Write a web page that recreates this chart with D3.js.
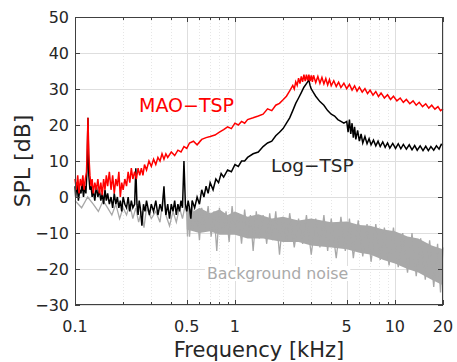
<!DOCTYPE html>
<html>
<head>
<meta charset="utf-8">
<script src="https://cdn.jsdelivr.net/npm/d3@7"></script>
<style>
  body { margin: 0; background: #fff; }
  svg text { font-family: "DejaVu Sans", sans-serif; }
</style>
</head>
<body>
<svg id="chart"></svg>
<script>
// axis ticks
const xTicks = [0.1, 0.5, 1, 5, 10, 20];
const xMinor = [0.2, 0.3, 0.4, 0.6, 0.7, 0.8, 0.9, 2, 3, 4, 6, 7, 8, 9];
const yTicks = [-30, -20, -10, 0, 10, 20, 30, 40, 50];

// MAO-TSP (kHz, dB)
const maoTsp = [
  [0.100, 5], [0.102, 2], [0.104, 6], [0.106, 1], [0.108, 5], [0.110, 3], [0.112, 6], [0.114, 2],
  [0.116, 5], [0.118, 7], [0.119, 12], [0.1205, 22], [0.122, 12], [0.124, 6], [0.126, 3], [0.128, 5],
  [0.130, 1], [0.133, 4], [0.136, 2], [0.139, 5], [0.142, 1], [0.145, 4], [0.148, 0.5], [0.151, 5],
  [0.154, 2], [0.157, 6], [0.160, 3], [0.164, 7], [0.168, 2], [0.172, 6], [0.176, 1], [0.180, 5],
  [0.184, 3], [0.188, 7], [0.192, 0], [0.196, 4], [0.200, 2], [0.205, 5], [0.210, 3], [0.215, 7],
  [0.220, 4], [0.225, 8], [0.230, 5], [0.236, 7], [0.242, 5], [0.248, 8], [0.254, 6], [0.260, 8],
  [0.266, 6], [0.272, 9], [0.280, 7.5], [0.290, 10], [0.300, 8.5], [0.310, 10.5], [0.320, 9], [0.330, 11],
  [0.340, 10], [0.350, 12], [0.360, 10.5], [0.370, 12], [0.380, 11], [0.400, 12.5], [0.420, 11.5], [0.440, 13],
  [0.460, 12.5], [0.480, 14], [0.500, 13.5], [0.520, 15], [0.550, 15.5], [0.580, 14.5], [0.620, 16], [0.660, 16.5],
  [0.700, 16.8], [0.750, 17.2], [0.800, 18], [0.850, 18.7], [0.900, 19.5], [0.950, 19], [1.0, 20.5], [1.05, 20],
  [1.1, 21], [1.15, 20.5], [1.2, 21.5], [1.3, 22], [1.4, 22.5], [1.5, 23], [1.6, 24.5], [1.7, 24],
  [1.8, 25.5], [1.9, 26], [2.0, 27], [2.1, 28], [2.2, 29.5], [2.3, 31], [2.35, 30], [2.4, 32], [2.45, 31],
  [2.5, 33], [2.55, 31.5], [2.6, 33.5], [2.65, 32], [2.7, 34], [2.75, 32.2], [2.8, 34], [2.85, 32.3],
  [2.9, 34], [2.95, 32.2], [3.0, 33.8], [3.05, 32], [3.1, 33.8], [3.2, 31.8], [3.3, 33.5],
  [3.4, 31.6], [3.5, 33.2], [3.6, 31.4], [3.7, 32.9], [3.8, 31.1], [3.9, 32.6], [4.0, 30.9], [4.15, 32.3],
  [4.3, 30.7], [4.45, 31.9], [4.6, 30.4], [4.8, 31.6], [5.0, 30.1], [5.2, 31.3], [5.4, 29.7], [5.6, 30.9],
  [5.8, 29.4], [6.0, 30.5], [6.25, 29.1], [6.5, 30.1], [6.75, 28.7], [7.0, 29.7], [7.3, 28.3], [7.6, 29.3],
  [7.9, 27.9], [8.2, 28.9], [8.6, 27.5], [9.0, 28.4], [9.4, 27.1], [9.8, 28], [10.3, 26.7], [10.8, 27.5],
  [11.3, 26.3], [11.8, 27.1], [12.4, 25.9], [13.0, 26.7], [13.6, 25.5], [14.2, 26.3], [14.9, 25.1], [15.6, 25.9],
  [16.3, 24.7], [17.0, 25.5], [17.8, 24.4], [18.6, 25.1], [19.3, 24], [20.0, 24.5]
];

// Log-TSP (kHz, dB)
const logTsp = [
  [0.100, 3], [0.101, 0], [0.103, 4], [0.105, -1], [0.107, 2], [0.109, 1], [0.111, 4], [0.113, 0],
  [0.115, 3], [0.117, 1], [0.119, 8], [0.1205, 22], [0.122, 6], [0.124, 2], [0.126, 3], [0.128, 0],
  [0.130, 2], [0.133, -1], [0.136, 3], [0.139, 0], [0.142, 2], [0.145, -1], [0.148, 1], [0.151, -2],
  [0.154, 2], [0.157, -1], [0.160, 1], [0.164, -2], [0.168, 0], [0.172, -3], [0.176, 1], [0.180, -2],
  [0.184, 0], [0.188, -3], [0.192, -1], [0.196, -4], [0.200, 0], [0.205, -2], [0.210, -3], [0.215, 0],
  [0.220, -4], [0.225, -1], [0.230, -3], [0.236, -2], [0.240, 8], [0.244, -2], [0.248, -5], [0.252, -1],
  [0.256, -3], [0.262, -8], [0.268, -2], [0.274, -4], [0.280, -1], [0.286, -3], [0.292, -5], [0.300, -2],
  [0.310, -4], [0.320, -1], [0.330, -5], [0.340, -2], [0.350, -4], [0.360, 3], [0.365, -2], [0.370, -5],
  [0.380, -2], [0.390, -6], [0.400, -2], [0.410, -4], [0.420, -1], [0.430, -5], [0.440, -2], [0.450, -4],
  [0.460, -1], [0.470, -3], [0.480, 10], [0.490, -2], [0.500, -4], [0.510, -1], [0.520, -3], [0.530, -6],
  [0.540, -1], [0.560, -3], [0.580, 0], [0.600, -2], [0.620, 2], [0.640, 0], [0.660, 3], [0.680, 1],
  [0.700, 4], [0.730, 2], [0.760, 5], [0.790, 4], [0.820, 6.5], [0.850, 5.5], [0.900, 7.5], [0.950, 7],
  [1.0, 9], [1.05, 8.5], [1.1, 10], [1.15, 10], [1.2, 11], [1.3, 12], [1.4, 12.5], [1.5, 14],
  [1.6, 15], [1.7, 15.5], [1.8, 17], [1.9, 18], [2.0, 19], [2.1, 20.5], [2.2, 22], [2.3, 24],
  [2.4, 26], [2.5, 27.5], [2.6, 29], [2.7, 30.5], [2.8, 31.5], [2.9, 32.5], [2.95, 31], [3.0, 30],
  [3.1, 29], [3.2, 28], [3.4, 26.5], [3.6, 25.5], [3.8, 24], [4.0, 23], [4.2, 22.5], [4.4, 21.5],
  [4.6, 21], [4.8, 20.5], [5.0, 21], [5.1, 18], [5.2, 21.5], [5.3, 17.5], [5.4, 20.5], [5.5, 16.5],
  [5.6, 19.5], [5.7, 16], [5.85, 18.5], [6.0, 15.5], [6.15, 17.5], [6.3, 15], [6.5, 16.8], [6.7, 14.8],
  [6.9, 16.2], [7.1, 14.5], [7.35, 15.8], [7.6, 14.2], [7.85, 15.5], [8.1, 14], [8.4, 15.3], [8.7, 13.8],
  [9.0, 15], [9.3, 13.6], [9.7, 14.9], [10.1, 13.5], [10.5, 14.8], [10.9, 13.4], [11.3, 14.6], [11.8, 13.3],
  [12.3, 14.5], [12.8, 13.1], [13.3, 14.3], [13.8, 13], [14.4, 14.2], [15.0, 12.9], [15.6, 14.1], [16.2, 12.9],
  [16.8, 14], [17.5, 13], [18.2, 14.2], [18.9, 13.3], [19.5, 14.6], [20.0, 14.5]
];

// Background noise: dense band body (upper / lower edge) and its spikes
const noiseTop = [
  [0.5, -2.5], [0.55, -4], [0.6, -3], [0.7, -4.5], [0.8, -3.5], [0.9, -5], [1.0, -4], [1.2, -5.5],
  [1.4, -4.8], [1.7, -6], [2, -5.5], [2.5, -6.5], [3, -6], [4, -7], [5, -6.8], [6, -7.8],
  [7, -8], [8.5, -9], [10, -9.5], [12, -11], [14, -11.5], [17, -13.5], [20, -14.5]
];
const noiseBottom = [
  [0.5, -9], [0.6, -10], [0.7, -9.5], [0.8, -10.5], [1.0, -10.5], [1.2, -11.5], [1.5, -11.5], [2, -12.5],
  [2.5, -12.5], [3, -13.5], [4, -14], [5, -14.5], [6, -15.5], [7, -16], [8.5, -17.5], [10, -18.5],
  [12, -20], [14, -21], [17, -23], [20, -24.5]
];
const noiseLine = [
  [0.10, -1], [0.11, -3], [0.12, 0], [0.13, -2], [0.14, -4], [0.15, -1], [0.16, -3], [0.17, -5],
  [0.18, -2], [0.19, -6], [0.20, -3], [0.21, -5], [0.22, -2], [0.23, -6], [0.24, -3], [0.25, -7],
  [0.26, -4], [0.27, -8.5], [0.28, -3], [0.30, -6], [0.32, -4], [0.34, -7], [0.36, 2], [0.37, -5],
  [0.39, -8], [0.41, -4], [0.43, -7], [0.45, -3], [0.47, -6], [0.49, -2], [0.50, -5], [0.505, -11],
  [0.51, -3], [0.52, -11], [0.54, -2], [0.56, -9], [0.58, -4], [0.60, -12], [0.62, -3], [0.65, -9],
  [0.68, -2.5], [0.71, -11], [0.74, -4], [0.77, -15], [0.80, -3], [0.84, -10], [0.88, -4], [0.92, -12.5],
  [0.96, -2.5], [1.0, -10], [1.05, -4.5], [1.1, -13], [1.15, -3.5], [1.2, -11], [1.25, -5], [1.3, -15],
  [1.36, -4], [1.42, -11.5], [1.5, -5], [1.58, -13], [1.65, -4.5], [1.72, -12], [1.8, -4], [1.9, -16],
  [2.0, -5.5], [2.1, -12.5], [2.2, -4.5], [2.35, -14], [2.5, -6], [2.65, -13], [2.8, -5], [3.0, -16],
  [3.2, -6], [3.4, -14], [3.6, -5], [3.8, -15], [4.0, -6], [4.3, -17], [4.6, -5.5], [4.9, -15],
  [5.2, -6], [5.5, -17], [5.9, -6.5], [6.3, -16.5], [6.7, -7.5], [7.1, -18], [7.6, -7.5], [8.1, -17.5],
  [8.6, -8.5], [9.2, -19], [9.8, -8.5], [10.5, -19.5], [11.2, -10], [12.0, -21], [12.8, -10], [13.6, -22],
  [14.5, -11.5], [15.5, -23], [16.5, -12], [17.5, -25], [18.5, -13], [19.3, -26.5], [20.0, -14]
];

const width = 457, height = 362;
const margin = { left: 75, top: 17, right: 14, bottom: 57 };
const textColor = "#262626";

const svg = d3.select("#chart").attr("width", width).attr("height", height);

const x = d3.scaleLog().domain([0.1, 20]).range([margin.left, width - margin.right]);
const y = d3.scaleLinear().domain([-30, 50]).range([height - margin.bottom, margin.top]);

const x0 = x.range()[0], x1 = x.range()[1];
const y0 = y.range()[0], y1 = y.range()[1];

// grid
const grid = svg.append("g");
grid.selectAll(".xminor").data(xMinor).join("line")
  .attr("x1", d => Math.round(x(d)) + 0.5).attr("x2", d => Math.round(x(d)) + 0.5)
  .attr("y1", y1).attr("y2", y0)
  .attr("stroke", "#e6e6e6").attr("stroke-dasharray", "1,2");
grid.selectAll(".xmajor").data(xTicks).join("line")
  .attr("x1", d => Math.round(x(d)) + 0.5).attr("x2", d => Math.round(x(d)) + 0.5)
  .attr("y1", y1).attr("y2", y0)
  .attr("stroke", "#dedede");
grid.selectAll(".ymajor").data(yTicks).join("line")
  .attr("x1", x0).attr("x2", x1)
  .attr("y1", d => Math.round(y(d)) + 0.5).attr("y2", d => Math.round(y(d)) + 0.5)
  .attr("stroke", "#dedede");

// series
const line = d3.line().x(d => x(d[0])).y(d => y(d[1]));
const plot = svg.append("g");

const band = noiseTop.concat(noiseBottom.slice().reverse());
plot.append("path")
  .attr("d", line(band) + "Z")
  .attr("fill", "#a8a8a8");
plot.append("path").datum(noiseLine).attr("d", line)
  .attr("fill", "none").attr("stroke", "#a8a8a8").attr("stroke-width", 1.3);

plot.append("path").datum(logTsp).attr("d", line)
  .attr("fill", "none").attr("stroke", "#000").attr("stroke-width", 1.5);

plot.append("path").datum(maoTsp).attr("d", line)
  .attr("fill", "none").attr("stroke", "#ff0000").attr("stroke-width", 1.5);

// labels inside plot
svg.append("text").attr("x", 139).attr("y", 112)
  .attr("font-size", 19).attr("fill", "#ff0000").text("MAO\u2212TSP");
svg.append("text").attr("x", 271).attr("y", 172)
  .attr("font-size", 18.5).attr("fill", textColor).text("Log\u2212TSP");
const bg = svg.append("g");
const bgText = bg.append("text").attr("x", 207).attr("y", 279)
  .attr("font-size", 15.8).attr("fill", "#aaaaaa").text("Background noise");
const bb = bgText.node().getBBox();
bg.insert("rect", "text").attr("x", bb.x - 2).attr("y", bb.y + 2)
  .attr("width", bb.width + 4).attr("height", bb.height - 4).attr("fill", "#fff");

// axes (box with inward ticks)
const axes = svg.append("g").attr("stroke", "#404040").attr("fill", "none");
axes.append("rect").attr("x", x0 + 0.5).attr("y", y1 + 0.5)
  .attr("width", x1 - x0 - 1).attr("height", y0 - y1 - 1);

const xAll = xTicks.concat(xMinor);
axes.selectAll(".xtb").data(xAll).join("line")
  .attr("x1", d => Math.round(x(d)) + 0.5).attr("x2", d => Math.round(x(d)) + 0.5)
  .attr("y1", y0).attr("y2", d => y0 - (xTicks.includes(d) ? 5 : 3));
axes.selectAll(".xtt").data(xAll).join("line")
  .attr("x1", d => Math.round(x(d)) + 0.5).attr("x2", d => Math.round(x(d)) + 0.5)
  .attr("y1", y1).attr("y2", d => y1 + (xTicks.includes(d) ? 5 : 3));
axes.selectAll(".ytl").data(yTicks).join("line")
  .attr("x1", x0).attr("x2", x0 + 5)
  .attr("y1", d => Math.round(y(d)) + 0.5).attr("y2", d => Math.round(y(d)) + 0.5);
axes.selectAll(".ytr").data(yTicks).join("line")
  .attr("x1", x1).attr("x2", x1 - 5)
  .attr("y1", d => Math.round(y(d)) + 0.5).attr("y2", d => Math.round(y(d)) + 0.5);

// tick labels
svg.append("g").selectAll("text").data(xTicks).join("text")
  .attr("x", d => x(d)).attr("y", y0 + 27)
  .attr("text-anchor", "middle").attr("font-size", 16).attr("fill", textColor)
  .text(d => d);
svg.append("g").selectAll("text").data(yTicks).join("text")
  .attr("x", x0 - 6).attr("y", d => y(d) + 6)
  .attr("text-anchor", "end").attr("font-size", 16).attr("fill", textColor)
  .text(d => d < 0 ? "\u2212" + Math.abs(d) : d);

// axis titles
svg.append("text").attr("x", (x0 + x1) / 2).attr("y", 357)
  .attr("text-anchor", "middle").attr("font-size", 21).attr("fill", textColor)
  .text("Frequency [kHz]");
svg.append("text").attr("transform", `translate(30,${(y0 + y1) / 2}) rotate(-90)`)
  .attr("text-anchor", "middle").attr("font-size", 22).attr("fill", textColor)
  .text("SPL [dB]");
</script>
</body>
</html>
